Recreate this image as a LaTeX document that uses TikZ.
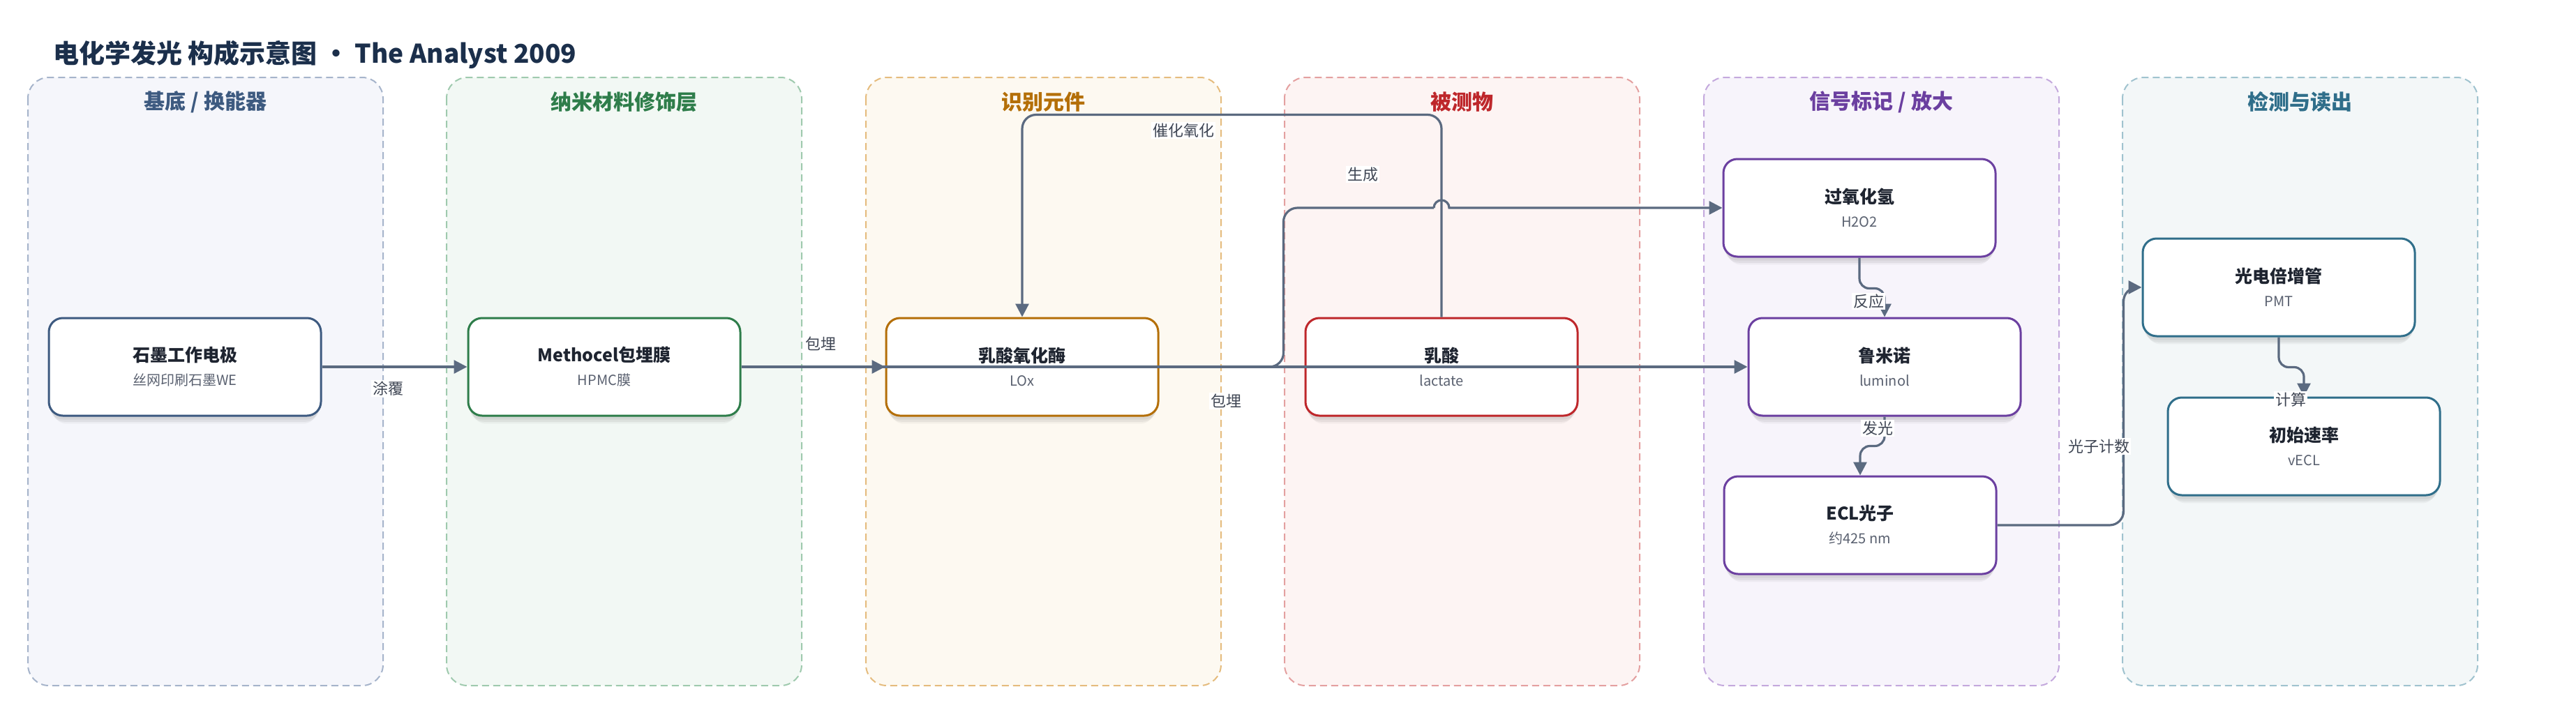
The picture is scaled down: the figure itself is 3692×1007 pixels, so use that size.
\documentclass[tikz,border=0pt]{standalone}
\usepackage{fontspec}
\setmainfont{Noto Sans CJK SC}
\usetikzlibrary{arrows.meta,shadows,calc}
\definecolor{titlec}{HTML}{1B2F4B}
\definecolor{edgec}{HTML}{5B6A80}
\definecolor{maintc}{HTML}{1E2430}
\definecolor{subtc}{HTML}{5A6170}
\definecolor{lblc}{HTML}{3F4654}
% lane colours: fill, border, title/node
\definecolor{fA}{HTML}{F5F6FB}\definecolor{bA}{HTML}{A6B4CB}\definecolor{cA}{HTML}{3D5A80}
\definecolor{fB}{HTML}{F2F8F4}\definecolor{bB}{HTML}{9FCAAE}\definecolor{cB}{HTML}{2E7D4A}
\definecolor{fC}{HTML}{FDF9F1}\definecolor{bC}{HTML}{E5BC7E}\definecolor{cC}{HTML}{B46F08}
\definecolor{fD}{HTML}{FDF4F3}\definecolor{bD}{HTML}{E4A0A0}\definecolor{cD}{HTML}{BE272B}
\definecolor{fE}{HTML}{F7F4FB}\definecolor{bE}{HTML}{C4A9DD}\definecolor{cE}{HTML}{6B3FA0}
\definecolor{fF}{HTML}{F3F7F8}\definecolor{bF}{HTML}{A0C3CF}\definecolor{cF}{HTML}{2F6E8A}
\newcommand\mtxt[1]{{\fontsize{12.5}{17}\selectfont\bfseries\color{maintc}#1}}
\newcommand\stxt[1]{{\fontsize{10}{17}\selectfont\color{subtc}#1}}
\begin{document}
\begin{tikzpicture}[x=0.5pt,y=-0.5pt,
  lanebox/.style n args={2}{fill=#1, draw=#2, line width=1pt, dash pattern=on 5pt off 3pt, rounded corners=15pt},
  lanetitle/.style={font=\fontsize{15}{18}\selectfont\bfseries, text=#1, anchor=center},
  nshadow/.style={
    general shadow={draw=none, fill=black, opacity=0.05, shadow yshift=-3pt, shadow scale=0.995},
    general shadow={draw=none, fill=black, opacity=0.05, shadow yshift=-5pt, shadow scale=0.985},
    general shadow={draw=none, fill=black, opacity=0.04, shadow yshift=-7pt, shadow scale=0.97}},
  box/.style={nshadow, draw=#1, fill=white, line width=1.5pt, rounded corners=10pt,
    minimum width=195pt, minimum height=70pt, inner sep=0pt, align=center,
    font=\fontsize{10}{17}\selectfont},
  edge/.style={draw=edgec, line width=1.6pt, -{Triangle[length=9.5pt,width=9.5pt]}},
  lbl/.style={fill=white, inner sep=1pt, text=lblc, font=\fontsize{11}{13}\selectfont}]
\useasboundingbox (0,0) rectangle (3692,1007);
\fill[white] (0,0) rectangle (3692,1007);

% title
\node[anchor=base west, inner sep=0pt, text=titlec, font=\fontsize{18.5}{22}\selectfont\bfseries] (title) at (76,90) {电化学发光 构成示意图 • The Analyst 2009};

% lanes
\draw[lanebox={fA}{bA}] (40,111) rectangle (549,983);
\draw[lanebox={fB}{bB}] (640,111) rectangle (1149,983);
\draw[lanebox={fC}{bC}] (1241,111) rectangle (1750,983);
\draw[lanebox={fD}{bD}] (1841,111) rectangle (2350,983);
\draw[lanebox={fE}{bE}] (2442,111) rectangle (2951,983);
\draw[lanebox={fF}{bF}] (3042,111) rectangle (3551,983);
\node[lanetitle=cA] (tA) at (294.5,146) {基底 / 换能器};
\node[lanetitle=cB] (tB) at (894.5,146) {纳米材料修饰层};
\node[lanetitle=cC] (tC) at (1495.5,146) {识别元件};
\node[lanetitle=cD] (tD) at (2095.5,146) {被测物};
\node[lanetitle=cE] (tE) at (2696.5,146) {信号标记 / 放大};
\node[lanetitle=cF] (tF) at (3296.5,146) {检测与读出};

% nodes
\node[box=cA] (we) at (265,526) {\mtxt{石墨工作电极}\\\stxt{丝网印刷石墨WE}};
\node[box=cB] (hpmc) at (866,526) {\mtxt{Methocel包埋膜}\\\stxt{HPMC膜}};
\node[box=cC] (lox) at (1465,526) {\mtxt{乳酸氧化酶}\\\stxt{LOx}};
\node[box=cD] (lac) at (2066,526) {\mtxt{乳酸}\\\stxt{lactate}};
\node[box=cE] (h2o2) at (2665,298) {\mtxt{过氧化氢}\\\stxt{H2O2}};
\node[box=cE] (lum) at (2701,526) {\mtxt{鲁米诺}\\\stxt{luminol}};
\node[box=cE] (ecl) at (2666,753) {\mtxt{ECL光子}\\\stxt{约425 nm}};
\node[box=cF] (pmt) at (3266,412) {\mtxt{光电倍增管}\\\stxt{PMT}};
\node[box=cF] (rate) at (3302,640) {\mtxt{初始速率}\\\stxt{vECL}};

% edges
\draw[edge] (we.east) -- (hpmc.west);
\draw[edge] (hpmc.east) -- (lox.west);
\draw[edge] (hpmc.east) -- (lum.west);
\draw[edge, rounded corners=10pt] (lac.north) -- ++(0,-290) -| (lox.north);
\draw[edge, -, rounded corners=10pt] (lox.east) -- ++(178,0) |- ($(lac.north|-h2o2.west)+(-11,0)$);
\draw[edge] ($(lac.north|-h2o2.west)+(-11,0)$) arc[start angle=180, end angle=360, radius=11] -- (h2o2.west);
\draw[edge, rounded corners=7pt] (h2o2.south) -- ++(0,44) -| (lum.north);
\draw[edge, rounded corners=7pt] (lum.south) -- ++(0,42) -| (ecl.north);
\draw[edge, rounded corners=10pt] (ecl.east) -- ++(181,0) |- (pmt.west);
\draw[edge, rounded corners=7pt] (pmt.south) -- ++(0,43) -| (rate.north);

% edge labels
\node[lbl] (l1) at (556,557) {涂覆};
\node[lbl] (l2) at (1176,493) {包埋};
\node[lbl] (l3) at (1757,575) {包埋};
\node[lbl] (l4) at (1953,250) {生成};
\node[lbl] (l5) at (1696,187) {催化氧化};
\node[lbl] (l6) at (2678,432) {反应};
\node[lbl] (l7) at (2691,614) {发光};
\node[lbl] (l8) at (3008,640) {光子计数};
\node[lbl] (l9) at (3283,573) {计算};
\end{tikzpicture}
\end{document}
